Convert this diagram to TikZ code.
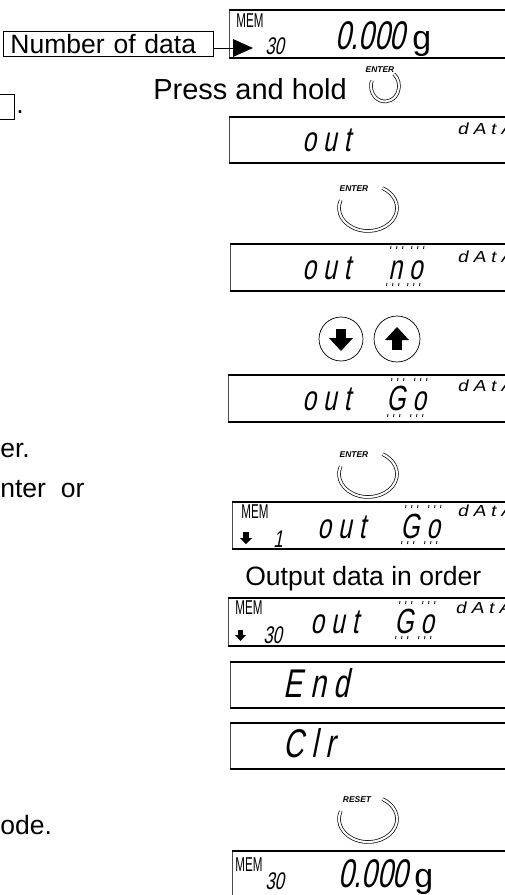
\documentclass[tikz,border=0pt]{standalone}
\usepackage{fontspec}
\setmainfont{Liberation Sans}
\newfontfamily\segfont{Liberation Sans}[FakeSlant=0.2, FakeStretch=0.7]
\newfontfamily\segword{Liberation Sans}[FakeSlant=0.2, FakeStretch=0.7, LetterSpace=20]
\newfontfamily\tagfont{Liberation Sans}[FakeSlant=0.2, FakeStretch=1.2, LetterSpace=30]
\newfontfamily\memfont{Liberation Sans}[FakeStretch=0.58]
\usetikzlibrary{positioning}

\begin{document}
\begin{tikzpicture}[x=0.02cm, y=-0.02cm,
  txt/.style={font=\fontsize{15.1}{18}\selectfont},
  lbl/.style={txt, inner sep=0pt, anchor=base west},
  bigseg/.style={font=\segfont\fontsize{22.8}{24}\selectfont, inner sep=0pt, anchor=base west},
  bigword/.style={font=\segword\fontsize{22.8}{24}\selectfont, inner sep=0pt, anchor=base west},
  wordseg/.style={font=\segword\fontsize{19.9}{22}\selectfont, inner sep=0pt, anchor=base west},
  smallseg/.style={font=\segfont\fontsize{13.7}{15}\selectfont, inner sep=0pt, anchor=base west},
  tagseg/.style={font=\tagfont\fontsize{9.1}{10}\selectfont, inner sep=0pt, anchor=base west},
  mem/.style={font=\memfont\fontsize{11.4}{12}\selectfont, inner sep=0pt, anchor=base west},
  unit/.style={font=\fontsize{19.3}{22}\selectfont, inner sep=0pt, anchor=base west},
  keyname/.style={font=\bfseries\itshape\fontsize{4.8}{6}\selectfont, inner sep=0pt},
  ring/.style={double, double distance=1.2pt, line width=0.4pt},
  lcdside/.style={line width=0.5pt, black!70},
  lcdrim/.style={line width=1.1pt},
  blink/.style={line width=0.5pt}]

  \useasboundingbox (0,0) rectangle (504,895);

  % LCD frames, open to the right
  \foreach \l/\t/\b in {229/10/58, 229/117/163, 230/244/291, 228/375/422,
                        232/502/549, 228/598/646, 230/662/708, 230/723/769, 232/851/898} {
    \draw[lcdside] (\l,\t) -- (\l,\b);
    \draw[lcdrim] (\l,\t) -- (520,\t);
    \draw[lcdrim] (\l,\b) -- (520,\b);
  }

  % Weighing display with data count
  \node (numdata) [draw, txt, anchor=north west, minimum width=4.2cm, minimum height=0.5cm,
        inner xsep=0.14cm, inner ysep=0pt, text width=3.92cm, align=left] at (3,31) {Number of data};
  \coordinate (ptr) at (233,48);
  \fill (233,39) -- (253,48) -- (233,57) -- cycle;
  \draw (numdata.east |- ptr) -- (ptr);
  \node[mem] (mem1) at (236,28) {MEM};
  \node[smallseg] (cnt1) at (265,55) {30};
  \node[bigseg] (wt1) at (335,50) {0.000};
  \node[unit] (g1) at (412,50) {g};

  % Press and hold ENTER
  \node[lbl, font=\fontsize{16.5}{19}\selectfont] (hold) at (153,100) {Press and hold};
  \node[keyname] (enter1) at (380,70) {ENTER};
  \draw[ring] (385,86) ++(200:14 and 15.5) arc[start angle=200, end angle=-50, x radius=14, y radius=15.5];

  % out
  \node[wordseg] (out2) at (302,152) {out};
  \node[tagseg] (tag2) at (457,135) {dAtA};

  % ENTER
  \node[keyname] (enter2) at (354,189) {ENTER};
  \draw[ring] (368,208) ++(200:29 and 23) arc[start angle=200, end angle=-60, x radius=29, y radius=23];

  % out no (blinking)
  \node[wordseg] (out3) at (302,279) {out};
  \node[wordseg] (sel3) at (388,279) {no};
  \node[tagseg] (tag3) at (457,262) {dAtA};
  \foreach \cx in {395,416} {
    \foreach \dx in {-6,0,6} {
      \draw[blink] (\cx+\dx+2,246) -- ++(-0.5,3);
      \draw[blink] (\cx+\dx-2,283) -- ++(-0.5,3);
    }
  }

  % Arrow keys
  \draw (341,339) circle[radius=22];
  \draw (397,339) circle[radius=23];
  \fill (336,329) rectangle (346,338);
  \fill (329,338) -- (353,338) -- (341,351) -- cycle;
  \fill (385,340) -- (409,340) -- (397,327) -- cycle;
  \fill (392,340) rectangle (402,350);

  % out Go (blinking)
  \node[wordseg] (out4) at (302,410) {out};
  \node[wordseg] (sel4) at (386,410) {Go};
  \node[tagseg] (tag4) at (457,391) {dAtA};
  \foreach \cx in {396,419} {
    \foreach \dx in {-6,0,6} {
      \draw[blink] (\cx+\dx+2,378) -- ++(-0.5,3);
      \draw[blink] (\cx+\dx-2,414) -- ++(-0.5,3);
    }
  }

  % ENTER
  \node[keyname] (enter3) at (354,455) {ENTER};
  \draw[ring] (368,474) ++(200:29 and 23) arc[start angle=200, end angle=-60, x radius=29, y radius=23];

  % MEM 1 out Go
  \node[mem] (mem5) at (241,518) {MEM};
  \fill (243,532) rectangle (249,538);
  \fill (240,538) -- (252,538) -- (246,544) -- cycle;
  \node[smallseg] (cnt5) at (273,547) {1};
  \node[wordseg] (out5) at (317,538) {out};
  \node[wordseg] (sel5) at (400,538) {Go};
  \node[tagseg] (tag5) at (457,516) {dAtA};
  \foreach \cx in {410,433} {
    \foreach \dx in {-6,0,6} {
      \draw[blink] (\cx+\dx+2,505) -- ++(-0.5,3);
      \draw[blink] (\cx+\dx-2,541) -- ++(-0.5,3);
    }
  }

  \node[lbl] (order) at (245,585) {Output data in order};

  % MEM 30 out Go
  \node[mem] (mem6) at (235,614) {MEM};
  \fill (238,630) rectangle (243,635);
  \fill (235,635) -- (246,635) -- (240.5,641) -- cycle;
  \node[smallseg] (cnt6) at (263,643) {30};
  \node[wordseg] (out6) at (310,633) {out};
  \node[wordseg] (sel6) at (394,633) {Go};
  \node[tagseg] (tag6) at (455,613) {dAtA};
  \foreach \cx in {404,427} {
    \foreach \dx in {-6,0,6} {
      \draw[blink] (\cx+\dx+2,601) -- ++(-0.5,3);
      \draw[blink] (\cx+\dx-2,636) -- ++(-0.5,3);
    }
  }

  % End, Clr
  \node[bigword] (end7) at (283,697) {End};
  \node[bigword] (clr8) at (283,757) {Clr};

  % RESET
  \node[keyname] (reset) at (357,800) {RESET};
  \draw[ring] (368,819) ++(200:29 and 23) arc[start angle=200, end angle=-60, x radius=29, y radius=23];

  % Back to weighing
  \node[mem] (mem9) at (235,871) {MEM};
  \node[smallseg] (cnt9) at (265,889) {30};
  \node[bigseg] (wt9) at (338,887) {0.000};
  \node[unit] (g9) at (414,887) {g};

  % Text cut at the left margin
  \draw (0,94) -- (14,94) -- (14,119) -- (0,119);
  \node[lbl] (dot) at (16,114) {.};
  \node[lbl] (er) at (0,457) {er.};
  \node[lbl] (nter) at (0,497) {nter~ or};
  \node[lbl] (ode) at (0,834) {ode.};

\end{tikzpicture}
\end{document}
